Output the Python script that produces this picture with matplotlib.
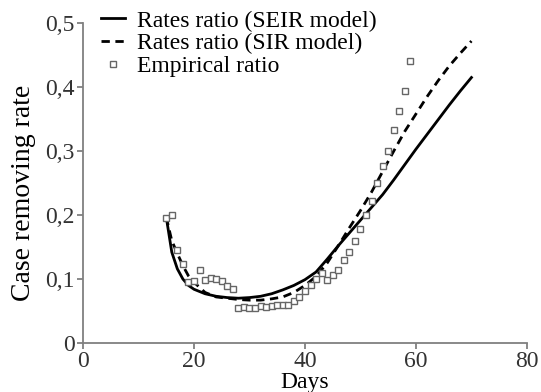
import numpy as np
import matplotlib
matplotlib.use('Agg')
import matplotlib.pyplot as plt

plt.rcParams['font.family'] = ['Liberation Serif', 'DejaVu Serif']
plt.rcParams['font.size'] = 17

# Empirical ratio, one point per day
emp_days = list(range(15, 60))
emp_vals = [0.195, 0.200, 0.145, 0.123, 0.096, 0.097, 0.114, 0.098, 0.101, 0.100,
            0.097, 0.089, 0.084, 0.054, 0.057, 0.054, 0.055, 0.058, 0.057, 0.058,
            0.059, 0.059, 0.059, 0.065, 0.072, 0.082, 0.090, 0.100, 0.110, 0.098,
            0.106, 0.114, 0.129, 0.143, 0.160, 0.178, 0.200, 0.222, 0.250, 0.277,
            0.300, 0.333, 0.363, 0.394, 0.441]

# Model curves
model_days = [15, 16, 17, 18, 19, 20, 22, 24, 26, 28, 30, 32, 34, 36, 38, 40,
              42, 44, 46, 48, 50, 52, 54, 56, 58, 60, 62, 64, 66, 68, 70]
seir_vals = [0.197, 0.142, 0.116, 0.100, 0.090, 0.084, 0.077, 0.073, 0.071, 0.070,
             0.071, 0.073, 0.077, 0.083, 0.090, 0.099, 0.111, 0.131, 0.152, 0.172,
             0.192, 0.212, 0.232, 0.255, 0.279, 0.303, 0.326, 0.349, 0.372, 0.394,
             0.415]
sir_vals = [0.197, 0.160, 0.140, 0.121, 0.105, 0.095, 0.079, 0.072, 0.070, 0.068,
            0.067, 0.067, 0.069, 0.072, 0.079, 0.090, 0.104, 0.125, 0.152, 0.180,
            0.207, 0.236, 0.268, 0.300, 0.331, 0.358, 0.385, 0.410, 0.433, 0.453,
            0.472]

y_ticks = [0, 0.1, 0.2, 0.3, 0.4, 0.5]
y_labels = ['0', '0,1', '0,2', '0,3', '0,4', '0,5']
x_ticks = [0, 20, 40, 60, 80]

fig = plt.figure(figsize=(5.41, 3.92), dpi=100)
ax = fig.add_axes([0.1534, 0.125, 0.8206, 0.816])

ax.plot(model_days, seir_vals, color='black', lw=2.0, label='Rates ratio (SEIR model)')
ax.plot(model_days, sir_vals, color='black', lw=2.0, ls=(0, (3, 2)),
        label='Rates ratio (SIR model)')
ax.plot(emp_days, emp_vals, ls='none', marker='s', ms=4.2, mfc='white',
        mec='#666666', mew=1.0, label='Empirical ratio')

ax.set_xlim(0, 80)
ax.set_ylim(0, 0.5)
ax.set_xticks(x_ticks)
ax.set_yticks(y_ticks)
ax.set_yticklabels(y_labels)
ax.set_xlabel('Days', labelpad=-0.5)
ax.set_ylabel('Case removing rate', fontsize=20)
ax.yaxis.set_label_coords(-0.105, 0.47)

for s in ['top', 'right']:
    ax.spines[s].set_visible(False)
for s in ['left', 'bottom']:
    ax.spines[s].set_color('#808080')
    ax.spines[s].set_linewidth(1.3)
ax.tick_params(colors='#808080', labelcolor='#333333', length=4, width=1.3, pad=2)

ax.legend(loc='upper left', bbox_to_anchor=(0.02, 1.07), frameon=False,
          handlelength=1.0, handletextpad=0.5, labelspacing=0.05,
          borderaxespad=0, markerscale=0.9)

fig.savefig('out.png', dpi=100)
